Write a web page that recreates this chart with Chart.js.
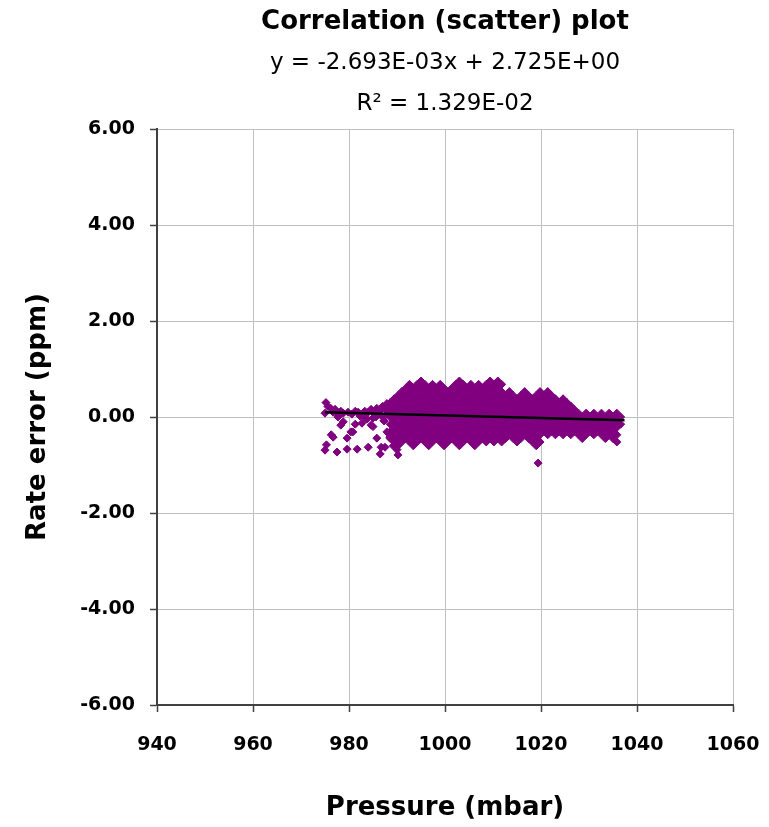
<!DOCTYPE html>
<html>
<head>
<meta charset="utf-8">
<title>Correlation (scatter) plot</title>
<script src="https://cdn.jsdelivr.net/npm/chart.js@4.4.1/dist/chart.umd.min.js"></script>
<style>
  html, body { margin: 0; padding: 0; background: #fff; }
  #scatterChart { display: block; }
</style>
</head>
<body>
<canvas id="scatterChart" width="769" height="827"></canvas>
<script>
// Sparse points on the low-pressure side (mbar, ppm)
const sparsePressure = [975.0, 975.2, 975.6, 976.2, 976.7, 977.1, 977.7, 978.3, 978.8, 979.8,
  980.6, 981.3, 981.9, 982.7, 983.3, 984.0, 984.6, 985.2, 985.8, 986.4, 987.0, 987.6, 987.9,
  986.8, 985.0, 983.6, 982.3, 983.8, 985.6, 987.3, 987.9, 988.1, 989.0,
  975.0, 975.3, 976.3, 976.7, 977.5, 977.7, 978.3, 978.8, 979.6, 979.6, 980.4, 980.8, 981.3,
  981.7, 982.7, 984.0, 984.6, 985.0, 985.8, 986.5, 986.7, 987.3, 987.5, 987.9, 988.5, 989.2,
  990.0, 990.2, 1019.4];
const sparseError = [0.08, 0.30, 0.22, 0.18, 0.10, 0.16, 0.05, 0.12, 0.08, 0.10,
  0.06, 0.12, 0.10, 0.04, 0.12, 0.10, 0.16, 0.08, 0.18, 0.12, 0.22, 0.15, 0.28,
  0.02, -0.02, -0.04, 0.02, -0.04, 0.00, -0.08, 0.05, 0.20, 0.30,
  -0.69, -0.58, -0.37, -0.42, -0.73, 0.00, -0.17, -0.10, -0.44, -0.67, -0.31, -0.31, -0.15,
  -0.67, -0.13, -0.63, -0.17, -0.20, -0.44, -0.77, -0.63, -0.08, -0.63, -0.31, -0.42, -0.60,
  -0.68, -0.79, -0.96];

// Dense cloud, read column by column (mbar -> list of ppm values)
const cloudPressure = [988.6, 989.4, 990.2, 991.0, 991.8, 992.6, 993.4, 994.2, 995.0, 995.8,
  996.6, 997.4, 998.2, 999.0, 999.8, 1000.6, 1001.4, 1002.2, 1003.0, 1003.8,
  1004.6, 1005.4, 1006.2, 1007.0, 1007.8, 1008.6, 1009.4, 1010.2, 1011.0, 1011.8,
  1012.6, 1013.4, 1014.2, 1015.0, 1015.8, 1016.6, 1017.4, 1018.2, 1019.0, 1019.8,
  1020.6, 1021.4, 1022.2, 1023.0, 1023.8, 1024.6, 1025.4, 1026.2, 1027.0, 1027.8,
  1028.6, 1029.4, 1030.2, 1031.0, 1031.8, 1032.6, 1033.4, 1034.2, 1035.0, 1035.8, 1036.6];
const cloudError = [
  [0.30, 0.15, 0.00, -0.15, -0.30, -0.45],
  [0.38, 0.23, 0.08, -0.07, -0.22, -0.37, -0.52],
  [0.45, 0.30, 0.15, 0.00, -0.15, -0.30, -0.45, -0.60],
  [0.53, 0.38, 0.23, 0.08, -0.07, -0.22, -0.37, -0.52],
  [0.60, 0.45, 0.30, 0.15, 0.00, -0.15, -0.30, -0.45],
  [0.68, 0.53, 0.38, 0.23, 0.08, -0.07, -0.22, -0.37, -0.52],
  [0.60, 0.45, 0.30, 0.15, 0.00, -0.15, -0.30, -0.45, -0.60],
  [0.68, 0.53, 0.38, 0.23, 0.08, -0.07, -0.22, -0.37, -0.52],
  [0.75, 0.60, 0.45, 0.30, 0.15, 0.00, -0.15, -0.30, -0.45],
  [0.68, 0.53, 0.38, 0.23, 0.08, -0.07, -0.22, -0.37, -0.52],
  [0.60, 0.45, 0.30, 0.15, 0.00, -0.15, -0.30, -0.45, -0.60],
  [0.68, 0.53, 0.38, 0.23, 0.08, -0.07, -0.22, -0.37, -0.52],
  [0.60, 0.45, 0.30, 0.15, 0.00, -0.15, -0.30, -0.45],
  [0.68, 0.53, 0.38, 0.23, 0.08, -0.07, -0.22, -0.37, -0.52],
  [0.60, 0.45, 0.30, 0.15, 0.00, -0.15, -0.30, -0.45, -0.60],
  [0.53, 0.38, 0.23, 0.08, -0.07, -0.22, -0.37, -0.52],
  [0.60, 0.45, 0.30, 0.15, 0.00, -0.15, -0.30, -0.45],
  [0.68, 0.53, 0.38, 0.23, 0.08, -0.07, -0.22, -0.37, -0.52],
  [0.75, 0.60, 0.45, 0.30, 0.15, 0.00, -0.15, -0.30, -0.45, -0.60],
  [0.68, 0.53, 0.38, 0.23, 0.08, -0.07, -0.22, -0.37, -0.52],
  [0.60, 0.45, 0.30, 0.15, 0.00, -0.15, -0.30, -0.45],
  [0.68, 0.53, 0.38, 0.23, 0.08, -0.07, -0.22, -0.37, -0.52],
  [0.60, 0.45, 0.30, 0.15, 0.00, -0.15, -0.30, -0.45, -0.60],
  [0.68, 0.53, 0.38, 0.23, 0.08, -0.07, -0.22, -0.37, -0.52],
  [0.60, 0.45, 0.30, 0.15, 0.00, -0.15, -0.30, -0.45],
  [0.68, 0.53, 0.38, 0.23, 0.08, -0.07, -0.22, -0.37, -0.52],
  [0.75, 0.60, 0.45, 0.30, 0.15, 0.00, -0.15, -0.30, -0.45],
  [0.68, 0.53, 0.38, 0.23, 0.08, -0.07, -0.22, -0.37, -0.52],
  [0.75, 0.60, 0.45, 0.30, 0.15, 0.00, -0.15, -0.30, -0.45],
  [0.68, 0.53, 0.38, 0.23, 0.08, -0.07, -0.22, -0.37, -0.52],
  [0.45, 0.30, 0.15, 0.00, -0.15, -0.30, -0.45],
  [0.53, 0.38, 0.23, 0.08, -0.07, -0.22, -0.37],
  [0.45, 0.30, 0.15, 0.00, -0.15, -0.30, -0.45],
  [0.38, 0.23, 0.08, -0.07, -0.22, -0.37, -0.52],
  [0.45, 0.30, 0.15, 0.00, -0.15, -0.30, -0.45],
  [0.53, 0.38, 0.23, 0.08, -0.07, -0.22, -0.37],
  [0.45, 0.30, 0.15, 0.00, -0.15, -0.30, -0.45],
  [0.38, 0.23, 0.08, -0.07, -0.22, -0.37, -0.52],
  [0.45, 0.30, 0.15, 0.00, -0.15, -0.30, -0.45, -0.60],
  [0.53, 0.38, 0.23, 0.08, -0.07, -0.22, -0.37, -0.52],
  [0.45, 0.30, 0.15, 0.00, -0.15, -0.30],
  [0.53, 0.38, 0.23, 0.08, -0.07, -0.22, -0.37],
  [0.45, 0.30, 0.15, 0.00, -0.15, -0.30],
  [0.38, 0.23, 0.08, -0.07, -0.22, -0.37],
  [0.30, 0.15, 0.00, -0.15, -0.30],
  [0.38, 0.23, 0.08, -0.07, -0.22, -0.37],
  [0.30, 0.15, 0.00, -0.15, -0.30],
  [0.23, 0.08, -0.07, -0.22, -0.37],
  [0.15, 0.00, -0.15, -0.30],
  [0.08, -0.07, -0.22, -0.37],
  [0.00, -0.15, -0.30, -0.45],
  [0.08, -0.07, -0.22, -0.37],
  [0.00, -0.15, -0.30],
  [0.08, -0.07, -0.22, -0.37],
  [0.00, -0.15, -0.30],
  [0.08, -0.07, -0.22, -0.37],
  [0.00, -0.15, -0.30, -0.45],
  [0.08, -0.07, -0.22, -0.37],
  [0.00, -0.15, -0.30, -0.45],
  [0.08, -0.07, -0.22, -0.37, -0.52],
  [0.00, -0.15]
];

// Linear trend line end points (y = -2.693E-03x + 2.725E+00)
const trendPressure = [975.0, 1037.4];
const trendError = [0.099, -0.069];

// Axis ticks
const xTicks = [940, 960, 980, 1000, 1020, 1040, 1060];
const yTicks = [-6, -4, -2, 0, 2, 4, 6];

const titleText = 'Correlation (scatter) plot';
const subtitleLines = ['y = -2.693E-03x + 2.725E+00', 'R\u00B2 = 1.329E-02'];

const points = [];
sparsePressure.forEach((p, i) => points.push({ x: p, y: sparseError[i] }));
cloudPressure.forEach((p, i) => {
  cloudError[i].forEach(v => points.push({ x: p, y: v }));
});
const trend = trendPressure.map((p, i) => ({ x: p, y: trendError[i] }));

const FONT = 'DejaVu Sans';
const purple = '#800080';

const whiteBg = {
  id: 'whiteBg',
  beforeDraw(chart) {
    const ctx = chart.ctx;
    ctx.save();
    ctx.fillStyle = '#ffffff';
    ctx.fillRect(0, 0, chart.width, chart.height);
    ctx.restore();
  }
};

const ctx = document.getElementById('scatterChart').getContext('2d');
new Chart(ctx, {
  type: 'scatter',
  data: {
    datasets: [{
      label: 'Trend',
      data: trend,
      showLine: true,
      borderColor: '#000000',
      borderWidth: 2.5,
      pointRadius: 0,
      order: 0
    }, {
      label: 'Rate error',
      data: points,
      pointStyle: 'rectRot',
      pointRadius: 4,
      pointBorderWidth: 1,
      pointBackgroundColor: purple,
      pointBorderColor: purple,
      order: 1
    }]
  },
  options: {
    responsive: false,
    devicePixelRatio: 1,
    animation: false,
    layout: { padding: { left: 0, right: 36, top: 0, bottom: 0 } },
    plugins: {
      legend: { display: false },
      tooltip: { enabled: false },
      title: {
        display: true,
        text: titleText,
        fullSize: false,
        color: '#000',
        font: { family: FONT, size: 26, weight: 'bold', lineHeight: 1.2 },
        padding: { top: 6.4, bottom: 4.9 }
      },
      subtitle: {
        display: true,
        text: subtitleLines,
        fullSize: false,
        color: '#000',
        font: { family: FONT, size: 23, weight: 'normal', lineHeight: 1.783 },
        padding: { top: 0, bottom: 4.5 }
      }
    },
    scales: {
      x: {
        type: 'linear',
        min: 940,
        max: 1060,
        afterBuildTicks: axis => { axis.ticks = xTicks.map(v => ({ value: v })); },
        afterFit: axis => {
          axis.height = 122;
          axis.paddingLeft = 0;
          axis.paddingRight = 0;
        },
        grid: { color: '#c0c0c0', lineWidth: 1, tickColor: '#404040', tickLength: 7, tickWidth: 1.5 },
        border: { color: '#404040', width: 2 },
        ticks: {
          color: '#000',
          padding: 21.6,
          maxRotation: 0,
          font: { family: FONT, size: 19, weight: 'bold' },
          callback: v => String(v)
        },
        title: {
          display: true,
          text: 'Pressure (mbar)',
          color: '#000',
          font: { family: FONT, size: 26, weight: 'bold', lineHeight: 1.2 },
          padding: { top: 0, bottom: 3.4 }
        }
      },
      y: {
        type: 'linear',
        min: -6,
        max: 6,
        afterBuildTicks: axis => { axis.ticks = yTicks.map(v => ({ value: v })); },
        afterFit: axis => { axis.width = 157; },
        grid: { color: '#c0c0c0', lineWidth: 1, tickColor: '#404040', tickLength: 7, tickWidth: 1.5 },
        border: { color: '#404040', width: 2 },
        ticks: {
          color: '#000',
          padding: 15,
          font: { family: FONT, size: 19, weight: 'bold' },
          callback: v => Number(v).toFixed(2)
        },
        title: {
          display: true,
          text: 'Rate error (ppm)',
          color: '#000',
          font: { family: FONT, size: 26, weight: 'bold', lineHeight: 1.2 },
          padding: { top: 22.4, bottom: 0 }
        }
      }
    }
  },
  plugins: [whiteBg]
});
</script>
</body>
</html>
